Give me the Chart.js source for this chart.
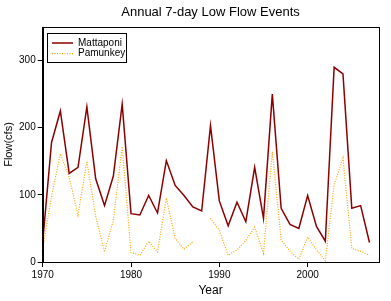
<!DOCTYPE html>
<html>
<head>
<meta charset="utf-8">
<script src="https://cdn.jsdelivr.net/npm/chart.js@4.4.1/dist/chart.umd.min.js"></script>
<style>
  html, body { margin: 0; padding: 0; background: #fff; }
  #wrap { width: 391px; height: 301px; position: relative; }
</style>
</head>
<body>
<div id="wrap"><canvas id="c" width="391" height="301"></canvas></div>
<script>
const chartTitle = "Annual 7-day Low Flow Events";
const xTitle = "Year";
const yTitle = "Flow(cfs)";
const seriesNames = ["Mattaponi", "Pamunkey"];
const years = [1970,1971,1972,1973,1974,1975,1976,1977,1978,1979,
               1980,1981,1982,1983,1984,1985,1986,1987,1988,1989,
               1990,1991,1992,1993,1994,1995,1996,1997,1998,1999,
               2000,2001,2002,2003,2004,2005,2006,2007];
const mattaponi = [30,178,225,132,141,231,124,84,128,235,
                   72,70,99,73,151,114,99,82,76,203,
                   91,54,89,60,141,65,250,80,56,50,
                   99,53,31,290,280,80,84,29];
const pamunkey = [20,98,161,126,70,150,68,15,62,172,
                  14,10,31,15,95,35,19,30,null,65,
                  47,10,18,32,52,13,164,33,16,4,
                  37,18,2,115,155,20,16,10];
const xTickStep = 10;
const yTickValues = [0,100,200,300];

const FONT = "'Liberation Sans', Arial, sans-serif";

const framePlugin = {
  id: 'frame',
  afterDraw(chart) {
    const {ctx, chartArea: a} = chart;
    ctx.save();
    ctx.strokeStyle = '#000';
    ctx.lineWidth = 1;
    ctx.strokeRect(Math.round(a.left) + 0.5, Math.round(a.top) + 0.5,
                   Math.round(a.right - a.left), Math.round(a.bottom - a.top));
    // title centered over plot area
    ctx.fillStyle = '#000';
    ctx.font = "13px " + FONT;
    ctx.textAlign = 'center';
    ctx.textBaseline = 'middle';
    ctx.fillText(chartTitle, (a.left + a.right) / 2, 12);
    // legend box
    const lx = 47.5, ly = 33.5, lw = 79, lh = 29;
    ctx.strokeRect(lx, ly, lw, lh);
    ctx.font = "10px " + FONT;
    ctx.textAlign = 'left';
    chart.data.datasets.forEach((ds, i) => {
      const yy = 43 + i * 10.7;
      ctx.save();
      ctx.strokeStyle = ds.borderColor;
      ctx.lineWidth = ds.borderWidth;
      ctx.setLineDash(ds.borderDash || []);
      ctx.beginPath();
      ctx.moveTo(52, yy);
      ctx.lineTo(73, yy);
      ctx.stroke();
      ctx.restore();
      ctx.fillStyle = '#000';
      ctx.fillText(ds.label, 78, yy);
    });
    ctx.restore();
  }
};

new Chart(document.getElementById('c'), {
  type: 'line',
  data: {
    datasets: [
      {
        label: seriesNames[0],
        data: years.map((y, i) => ({x: y, y: mattaponi[i]})),
        borderColor: '#8b0000',
        borderWidth: 1.5,
        pointRadius: 0,
        tension: 0,
        fill: false
      },
      {
        label: seriesNames[1],
        data: years.map((y, i) => ({x: y, y: pamunkey[i]})),
        borderColor: '#ffa500',
        borderWidth: 1.2,
        borderDash: [1, 1.5],
        pointRadius: 0,
        tension: 0,
        spanGaps: false,
        fill: false
      }
    ]
  },
  options: {
    responsive: false,
    animation: false,
    devicePixelRatio: 1,
    layout: { padding: { top: 27, right: 12.7, bottom: 0, left: 0 } },
    plugins: {
      legend: { display: false },
      title: { display: false },
      tooltip: { enabled: false }
    },
    scales: {
      x: {
        type: 'linear',
        min: 1970,
        max: 2008,
        afterFit(scale) { scale.height = 39; },
        afterBuildTicks(scale) {
          scale.ticks = scale.ticks.filter(t => t.value % xTickStep === 0);
        },
        ticks: {
          stepSize: xTickStep,
          color: '#000',
          font: { family: FONT, size: 10 },
          padding: 2,
          maxRotation: 0,
          callback: v => String(v)
        },
        grid: { drawOnChartArea: false, drawTicks: true, tickLength: 5, color: '#000' },
        border: { display: true, color: '#000', width: 1 },
        title: {
          display: true,
          text: xTitle,
          color: '#000',
          font: { family: FONT, size: 12 },
          padding: { top: 0, bottom: 3 }
        }
      },
      y: {
        min: 0,
        max: 350,
        afterFit(scale) { scale.width = 42.7; },
        afterBuildTicks(scale) {
          scale.ticks = yTickValues.map(v => ({value: v}));
        },
        ticks: {
          color: '#000',
          font: { family: FONT, size: 10 },
          padding: 2,
          callback: v => String(v)
        },
        grid: { drawOnChartArea: false, drawTicks: true, tickLength: 5, color: '#000' },
        border: { display: true, color: '#000', width: 1 },
        title: {
          display: true,
          text: yTitle,
          color: '#000',
          font: { family: FONT, size: 11 },
          padding: { top: 2, bottom: 0 }
        }
      }
    }
  },
  plugins: [framePlugin]
});
</script>
</body>
</html>
